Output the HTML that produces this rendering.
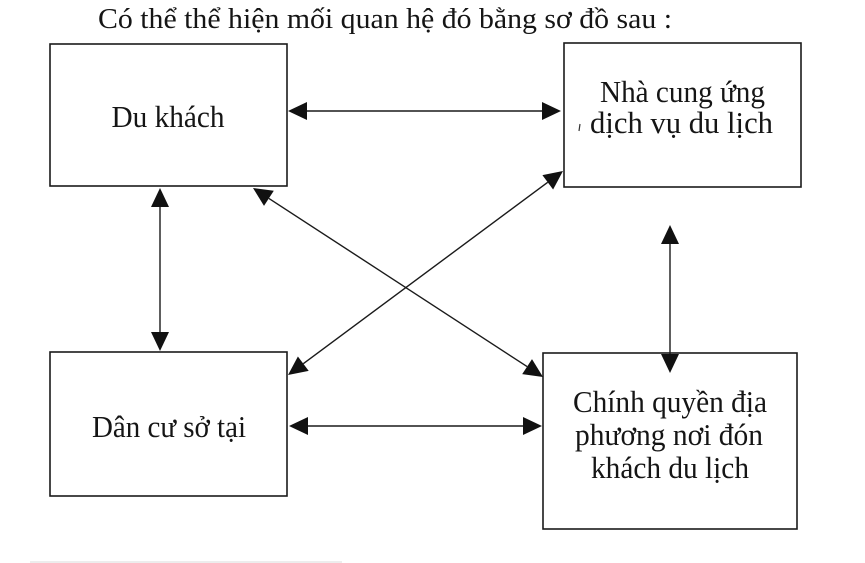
<!DOCTYPE html>
<html>
<head>
<meta charset="utf-8">
<style>
  html,body{margin:0;padding:0;background:#fff;}
  svg{display:block;}
  text{font-family:"Liberation Serif","DejaVu Serif",serif;fill:#151515;}
</style>
</head>
<body>
<svg width="865" height="563" viewBox="0 0 865 563" xmlns="http://www.w3.org/2000/svg">
  <rect x="0" y="0" width="865" height="563" fill="#fff"/>

  <!-- Title -->
  <text x="98" y="28" font-size="28" textLength="574" lengthAdjust="spacingAndGlyphs">Có thể thể hiện mối quan hệ đó bằng sơ đồ sau :</text>

  <!-- Boxes -->
  <g fill="none" stroke="#1a1a1a" stroke-width="1.6">
    <rect x="50" y="44" width="237" height="142"/>
    <rect x="564" y="43" width="237" height="144"/>
    <rect x="50" y="352" width="237" height="144"/>
    <rect x="543" y="353" width="254" height="176"/>
  </g>

  <!-- Box texts -->
  <text x="168" y="127" font-size="31" text-anchor="middle" textLength="113" lengthAdjust="spacingAndGlyphs">Du khách</text>

  <text x="600" y="102" font-size="31" textLength="165" lengthAdjust="spacingAndGlyphs">Nhà cung ứng</text>
  <text x="590" y="133" font-size="31" textLength="183" lengthAdjust="spacingAndGlyphs">dịch vụ  du lịch</text>
  <line x1="580" y1="124" x2="579" y2="131" stroke="#333" stroke-width="1.2"/>

  <text x="92" y="437" font-size="31" textLength="154" lengthAdjust="spacingAndGlyphs">Dân cư sở tại</text>

  <text x="573" y="412" font-size="31" textLength="194" lengthAdjust="spacingAndGlyphs">Chính quyền địa</text>
  <text x="575" y="445" font-size="31" textLength="188" lengthAdjust="spacingAndGlyphs">phương nơi đón</text>
  <text x="591" y="478" font-size="31" textLength="158" lengthAdjust="spacingAndGlyphs">khách du lịch</text>

  <!-- Connector lines -->
  <g stroke="#1a1a1a" stroke-width="1.4" fill="none">
    <line x1="305" y1="111" x2="544" y2="111"/>
    <line x1="160" y1="205" x2="160" y2="334"/>
    <line x1="306" y1="426" x2="525" y2="426"/>
    <line x1="670" y1="242" x2="670" y2="356"/>
    <line x1="268.9" y1="198.4" x2="527.1" y2="366.6"/>
    <line x1="547.7" y1="182.3" x2="303.3" y2="363.7"/>
  </g>

  <!-- Arrowheads -->
  <g fill="#111">
    <polygon points="288,111 307,102 307,120"/>
    <polygon points="561,111 542,102 542,120"/>
    <polygon points="160,188 151,207 169,207"/>
    <polygon points="160,351 151,332 169,332"/>
    <polygon points="289,426 308,417 308,435"/>
    <polygon points="542,426 523,417 523,435"/>
    <polygon points="670,225 661,244 679,244"/>
    <polygon points="670,373 661,354 679,354"/>
    <polygon points="253,188 264.0,205.9 273.8,190.8"/>
    <polygon points="543,377 522.2,374.1 532.0,359.1"/>
    <polygon points="563,171 542.4,175.1 553.1,189.5"/>
    <polygon points="288,375 297.9,356.5 308.7,370.9"/>
  </g>

  <!-- faint scan line at bottom -->
  <line x1="30" y1="562" x2="342" y2="562" stroke="#e2e2e2" stroke-width="1.2"/>
</svg>
</body>
</html>
